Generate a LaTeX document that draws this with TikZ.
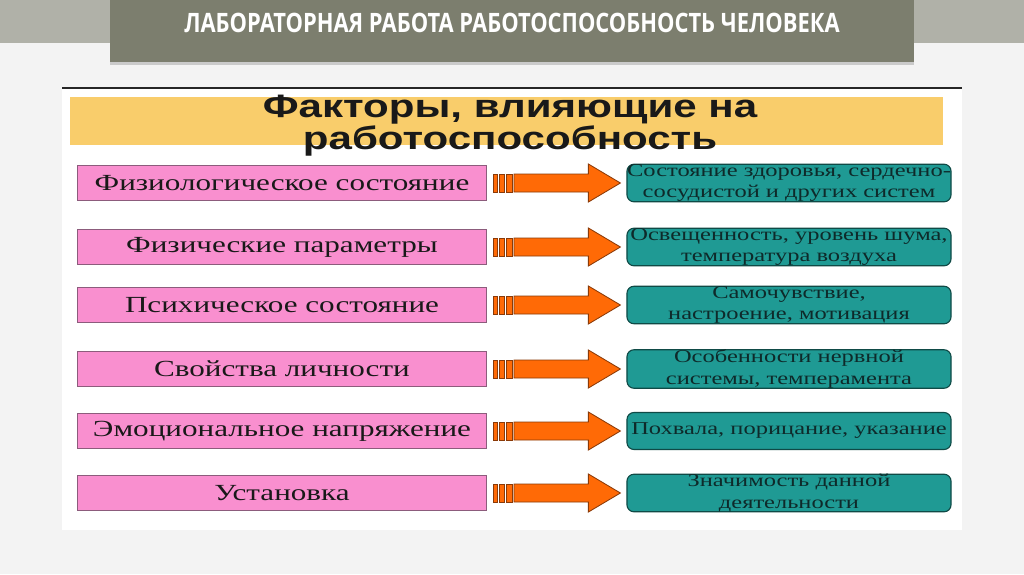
\documentclass[tikz,border=0pt]{standalone}
\usepackage{fontspec}
\setmainfont{Liberation Serif}
\newfontfamily\serifwide[FakeStretch=1.35]{Liberation Serif}
\newfontfamily\sanswide[FakeStretch=1.3]{Liberation Sans}
\newfontfamily\titlefont[FakeStretch=0.82]{Open Sans}
\usetikzlibrary{positioning, calc, shadows}
\definecolor{PageBg}{HTML}{F3F3F3}
\definecolor{Band}{HTML}{B0B1A8}
\definecolor{TitleBox}{HTML}{7C7E6E}
\definecolor{Banner}{HTML}{F9CD6B}
\definecolor{Pink}{HTML}{F98FCF}
\definecolor{PinkLine}{HTML}{8C5C7C}
\definecolor{Teal}{HTML}{1F9A94}
\definecolor{TealLine}{HTML}{0F4A46}
\definecolor{TealText}{HTML}{0E2A2A}
\definecolor{Arrow}{HTML}{FF6A06}
\definecolor{ArrowLine}{HTML}{8A3A08}
\tikzset{
    factor/.style={rectangle, fill=Pink, draw=PinkLine, line width=0.6pt, minimum width=10.225cm, minimum height=0.875cm, inner sep=0pt, font=\serifwide\fontsize{16.4}{18}\selectfont, text=black!90},
    detail/.style={rectangle, rounded corners=5pt, fill=Teal, draw=TealLine, line width=0.8pt, minimum width=8.1cm, minimum height=0.925cm, inner sep=0pt, align=center, font=\serifwide\fontsize{12.9}{15.4}\selectfont, text=TealText},
    blockarrow/.style={fill=Arrow, draw=ArrowLine, line width=0.6pt},
}
\begin{document}
\begin{tikzpicture}[x=0.025cm, y=-0.025cm]
    \useasboundingbox (0,0) rectangle (1024,574);
    % Fondo
    \fill[PageBg] (0,0) rectangle (1024,574);
    \fill[Band] (0,0) rectangle (1024,43);
    \node[fill=TitleBox, minimum width=20.075cm, minimum height=1.55cm, inner sep=0pt, drop shadow={opacity=0.35, shadow xshift=0pt, shadow yshift=-2pt}, anchor=north west] (titlebox) at (110,0) {};
    \node[text=white, font=\titlefont\bfseries\fontsize{19}{21}\selectfont] (title) at (512,23) {ЛАБОРАТОРНАЯ РАБОТА РАБОТОСПОСОБНОСТЬ ЧЕЛОВЕКА};

    % Pannello
    \fill[white] (62,87) rectangle (962,530);
    \draw[black!85, line width=1.4pt] (62,88) -- (962,88);
    \fill[Banner] (70,97) rectangle (943,145);
    \node[align=center, font=\sanswide\bfseries\fontsize{23}{21.5}\selectfont, text=black!90] (head) at (510,126) {Факторы, влияющие на\\работоспособность};

    % Righe
    \foreach \i/\y/\ftext/\dtext in {
        1/183/{Физиологическое состояние}/{Состояние здоровья, сердечно-\\сосудистой и других систем},
        2/247/{Физические параметры}/{Освещенность, уровень шума,\\температура воздуха},
        3/305/{Психическое состояние}/{Самочувствие,\\настроение, мотивация},
        4/369/{Свойства личности}/{Особенности нервной\\системы, темперамента},
        5/431/{Эмоциональное напряжение}/{Похвала, порицание, указание},
        6/493/{Установка}/{Значимость данной\\деятельности}} {
        \node[factor] (f\i) at (282,\y) {\ftext};
        \node[detail] (d\i) at (789,\y) {\dtext};
        % Freccia
        \draw[blockarrow] ($(f\i.east)+(6,-9)$) rectangle ($(f\i.east)+(10,9)$);
        \draw[blockarrow] ($(f\i.east)+(12,-9)$) rectangle ($(f\i.east)+(17,9)$);
        \draw[blockarrow] ($(f\i.east)+(19,-9)$) rectangle ($(f\i.east)+(25,9)$);
        \draw[blockarrow] ($(f\i.east)+(27,-9)$) -- ($(d\i.west)+(-38,-9)$) -- ($(d\i.west)+(-38,-19)$)
            -- ($(d\i.west)+(-6,0)$) -- ($(d\i.west)+(-38,19)$) -- ($(d\i.west)+(-38,9)$)
            -- ($(f\i.east)+(27,9)$) -- cycle;
    }
\end{tikzpicture}
\end{document}
